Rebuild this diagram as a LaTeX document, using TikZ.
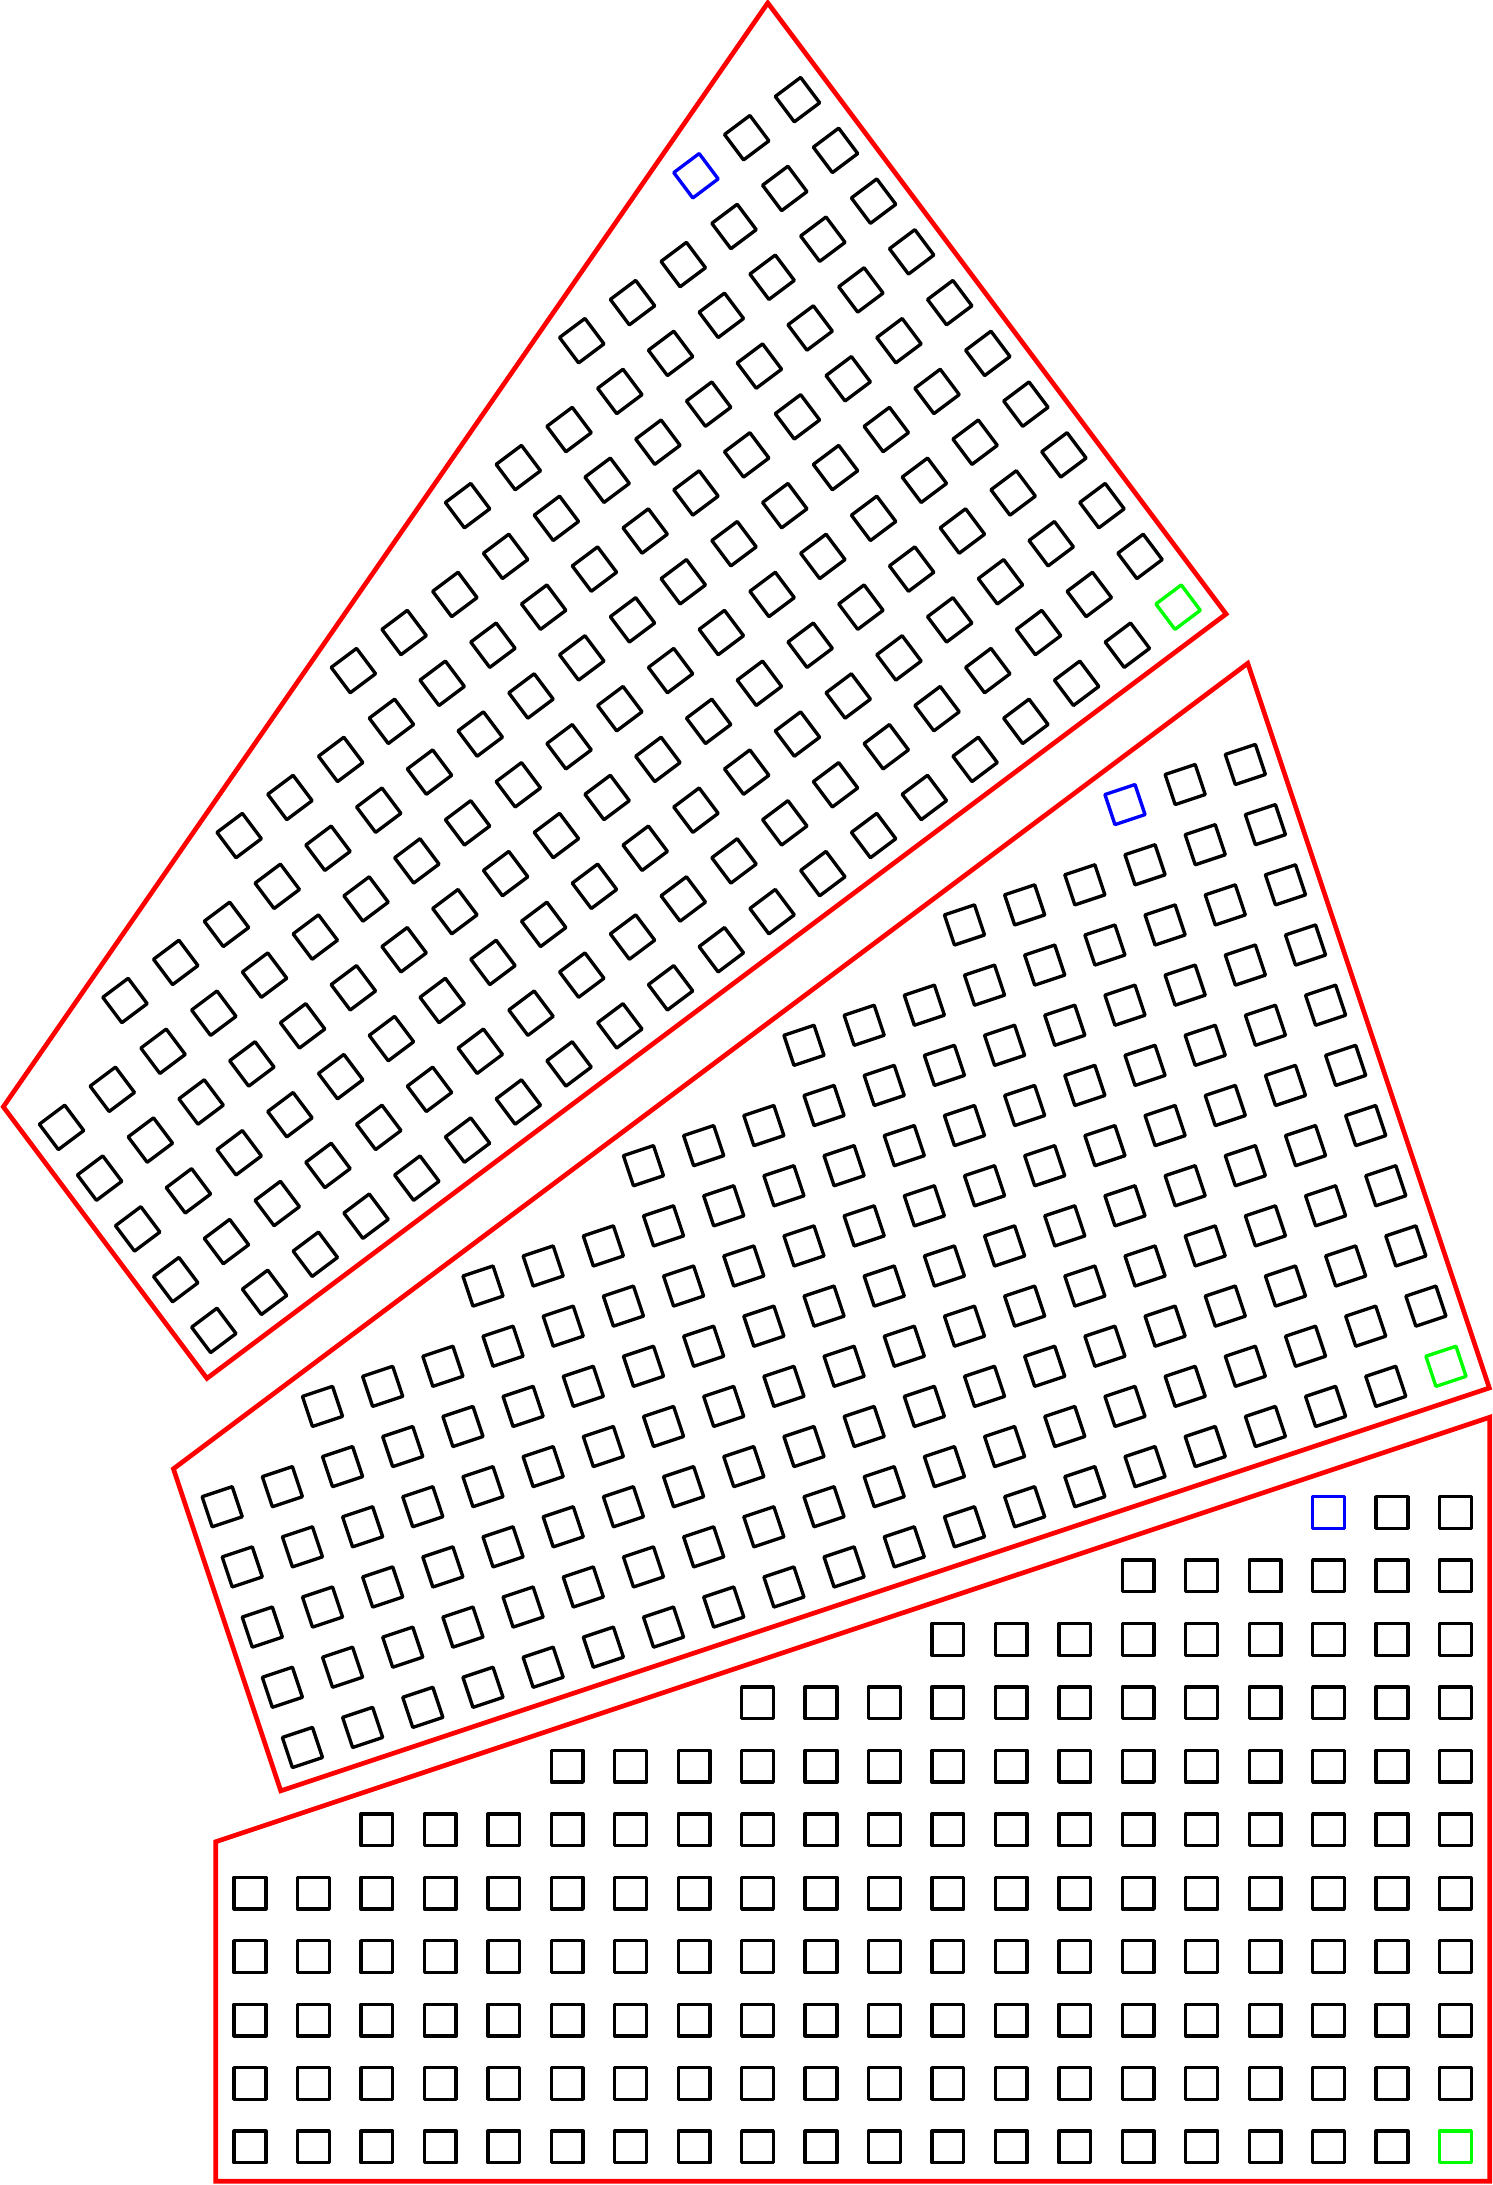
\documentclass[tikz,border=0pt]{standalone}
\usepackage{tikz}
\usepackage{xcolor}

\begin{document}
\begin{tikzpicture}[chip/.style={line width=1.5pt,line join=round},border/.style={red,line width=2.1pt}]
	\useasboundingbox (-3.94,-0.60) rectangle (19.59,33.84);
	\foreach \ang/\sx/\sy in {0/0/0,18.4349/0.827/6.296,36.8699/-0.57/12.87}{
		\begin{scope}[shift={(\sx,\sy)},rotate=\ang]
			\draw[border] (-0.54,-0.54) -- (19.54,-0.54) -- (19.54,11.5) -- (-0.54,4.81) -- cycle;
			\foreach \j in {0,...,10}{
				\pgfmathtruncatemacro{\first}{max(0,3*\j-13)}
				\foreach \c in {\first,...,19}{
					\def\col{black}
					\ifnum\j=10 \ifnum\c=17 \def\col{blue}\fi\fi
					\ifnum\j=0 \ifnum\c=19 \def\col{green}\fi\fi
					\draw[chip,draw=\col] (\c-0.25,\j-0.25) rectangle +(0.5,0.5);
				}
			}
		\end{scope}
	}
\end{tikzpicture}
\end{document}
